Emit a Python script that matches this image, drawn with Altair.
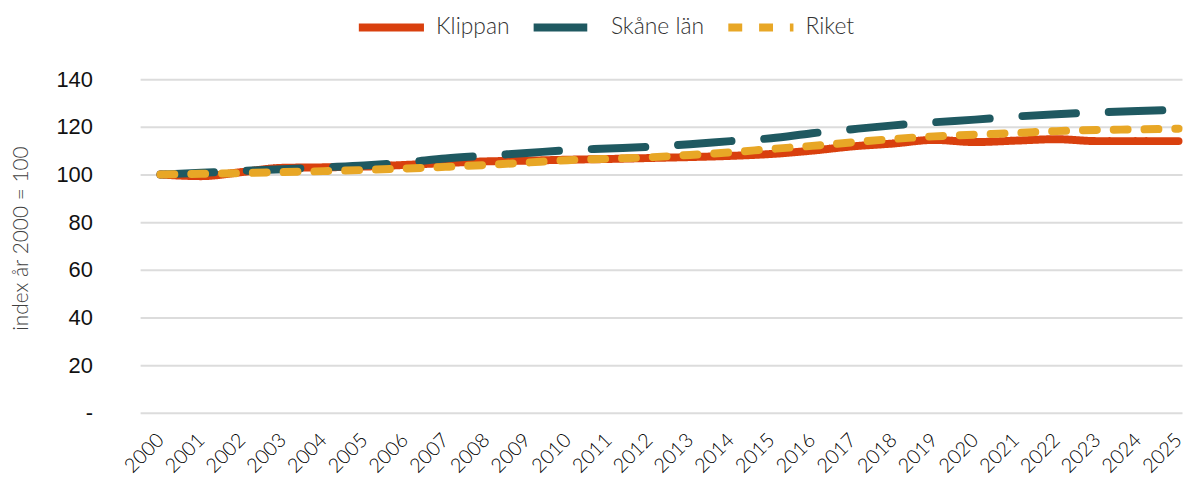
import altair as alt
import pandas as pd

years = list(range(2000, 2026))
klippan = [100.0, 99.3, 101.0, 102.8, 103.0, 103.3, 104.0, 104.8, 105.5, 105.8,
           106.2, 106.5, 106.9, 107.3, 107.8, 108.6, 110.0, 111.8, 113.0, 114.5,
           113.6, 114.2, 114.8, 114.0, 114.0, 114.0]
skane = [100.0, 100.7, 101.5, 102.2, 103.0, 103.8, 105.0, 106.7, 107.9, 109.0,
         110.2, 110.9, 111.6, 112.7, 114.0, 115.2, 117.3, 119.0, 120.6, 121.9,
         123.0, 124.3, 125.3, 126.0, 126.6, 127.1]
riket = [100.0, 100.3, 100.6, 101.0, 101.4, 101.9, 102.5, 103.2, 104.0, 105.0,
         106.0, 106.6, 107.2, 108.2, 109.3, 110.7, 112.0, 113.5, 114.9, 116.0,
         116.7, 117.4, 118.2, 118.7, 118.9, 119.2]
series_names = ["Klippan", "Skåne län", "Riket"]
series_colors = ["#D9400E", "#1F5961", "#E8A726"]
series_dash = [[1, 0], [54, 33], [14, 17]]
y_ticks = [0, 20, 40, 60, 80, 100, 120, 140]

rows = []
for name, vals in zip(series_names, [klippan, skane, riket]):
    for yr, v in zip(years, vals):
        rows.append({"year": yr, "value": v, "series": name})
df = pd.DataFrame(rows)

chart = alt.Chart(df).mark_line(
    strokeWidth=8, strokeCap="round", strokeJoin="round", interpolate="monotone", clip=False
).encode(
    x=alt.X("year:Q",
            scale=alt.Scale(domain=[1999.5, 1999.5 + 1049 / 41], nice=False, zero=False),
            axis=alt.Axis(values=years, format="d", labelAngle=-45, labelAlign="right",
                          labelBaseline="middle", labelPadding=24, domain=False, ticks=False,
                          grid=False, labelFont="Lato", labelFontSize=20, labelFontWeight=300,
                          labelColor="#000000",
                          title=None, labelOverlap=False, labelBound=False, labelFlush=False)),
    y=alt.Y("value:Q",
            scale=alt.Scale(domain=[0, 140], nice=False),
            axis=alt.Axis(values=y_ticks, labelExpr="datum.value == 0 ? '-\u00a0\u00a0' : datum.label",
                          labelPadding=48, labelFont="Liberation Sans", labelFontSize=22,
                          labelColor="#111111", domain=False, ticks=False, grid=True,
                          gridColor="#dcdcdc", gridWidth=2,
                          title="index år 2000 = 100", titleFont="Lato", titleFontWeight=300,
                          titleFontSize=21, titleColor="#404040", titleX=-113, titleY=160,
                          titleAngle=-90, titleAlign="center", titleBaseline="alphabetic")),
    color=alt.Color("series:N",
                    scale=alt.Scale(domain=series_names, range=series_colors),
                    legend=alt.Legend(title=None, orient="none", legendX=216, legendY=-89,
                                      direction="horizontal", symbolType="stroke",
                                      symbolSize=4300, symbolStrokeWidth=8,
                                      labelFont="Lato", labelFontSize=23, labelFontWeight=300,
                                      labelColor="#333333",
                                      labelOffset=8, columnPadding=8, padding=0)),
    strokeDash=alt.StrokeDash("series:N",
                              scale=alt.Scale(domain=series_names, range=series_dash),
                              legend=None),
).properties(
    width=1049, height=336,
    autosize=alt.AutoSizeParams(type="none"),
    padding={"left": 133, "top": 70, "right": 2, "bottom": 70},
).configure_view(stroke=None)

chart.save("out.html", embed_options={"renderer": "svg", "actions": False})
